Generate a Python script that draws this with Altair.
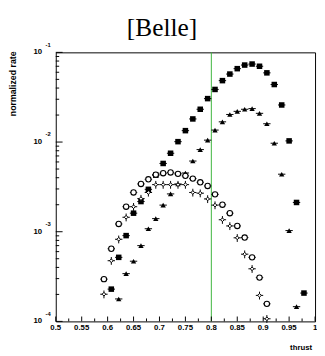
import altair as alt
import pandas as pd

# ---- data ----
thrust = [0.5929, 0.6071, 0.6214, 0.6357, 0.6500, 0.6643, 0.6786, 0.6929,
          0.7071, 0.7214, 0.7357, 0.7500, 0.7643, 0.7786, 0.7929, 0.8071,
          0.8214, 0.8357, 0.8500, 0.8643, 0.8786, 0.8929, 0.9071, 0.9214,
          0.9357, 0.9500, 0.9643, 0.9786]

squares = [None, 2.29e-4, 5.18e-4, 9.05e-4, 1.61e-3, 2.17e-3, 2.97e-3, 4.27e-3,
           5.77e-3, 7.50e-3, 1.01e-2, 1.34e-2, 1.81e-2, 2.32e-2, 3.05e-2, 3.86e-2,
           4.84e-2, 5.73e-2, 6.58e-2, 7.22e-2, 7.41e-2, 7.00e-2, 5.91e-2, 4.38e-2,
           2.59e-2, 1.03e-2, 2.12e-3, 2.07e-4]

triangles = [None, None, 1.78e-4, 3.41e-4, 4.69e-4, 7.00e-4, 1.08e-3, 1.40e-3,
             1.98e-3, 2.64e-3, 3.41e-3, 4.52e-3, 6.14e-3, 8.24e-3, 1.05e-2, 1.36e-2,
             1.68e-2, 2.03e-2, 2.20e-2, 2.32e-2, 2.36e-2, 2.09e-2, 1.60e-2, 9.70e-3,
             4.38e-3, 1.03e-3, 1.46e-4, None]

circles = [2.96e-4, 6.46e-4, 1.22e-3, 1.90e-3, 2.74e-3, 3.41e-3, 3.84e-3, 4.33e-3,
           4.49e-3, 4.58e-3, 4.42e-3, 4.20e-3, 3.91e-3, 3.56e-3, 3.24e-3, 2.61e-3,
           2.00e-3, 1.61e-3, 1.16e-3, 8.61e-4, 5.18e-4, 3.08e-4, 1.57e-4,
           None, None, None, None, None]

diamonds = [2.01e-4, 4.75e-4, 8.24e-4, 1.45e-3, 1.90e-3, 2.34e-3, 2.74e-3, 3.35e-3,
            3.35e-3, 3.35e-3, 3.35e-3, 3.35e-3, 2.74e-3, 2.69e-3, 2.32e-3, 1.98e-3,
            1.36e-3, 1.16e-3, 8.55e-4, 5.62e-4, 3.86e-4, 1.95e-4, 1.07e-4,
            None, None, None, None, None]

x_tick_labels = ["0.5", "0.55", "0.6", "0.65", "0.7", "0.75", "0.8", "0.85",
                 "0.9", "0.95", "1"]
x_major = [0.5, 0.55, 0.6, 0.65, 0.7, 0.75, 0.8, 0.85, 0.9, 0.95, 1.0]
x_minor = [0.525, 0.575, 0.625, 0.675, 0.725, 0.775, 0.825, 0.875, 0.925, 0.975]
y_decades = [1e-1, 1e-2, 1e-3, 1e-4]
y_exponents = ["-1", "-2", "-3", "-4"]
y_minor = [m * 10.0 ** e for e in (-4, -3, -2) for m in range(2, 10)]
cut_value = [0.8]

title_text = "[Belle]"
x_title = "thrust"
y_title = "normalized rate"

# ---- tables ----
rows = []
for name, vals in (("sq", squares), ("tri", triangles), ("circ", circles), ("dia", diamonds)):
    for t, v in zip(thrust, vals):
        if v is not None:
            rows.append({"thrust": t, "rate": v, "series": name})
df = pd.DataFrame(rows)
half_bin = (thrust[1] - thrust[0]) / 2

W, H = 266, 276
X = alt.Scale(domain=[0.5, 1.0], nice=False, zero=False)
Y = alt.Scale(type="log", domain=[1e-4, 1e-1], nice=False)
FONT = "Liberation Sans"

base = alt.Chart(df)
xenc = alt.X("thrust:Q", scale=X, axis=None)
yenc = alt.Y("rate:Q", scale=Y, axis=None)

hbars = base.transform_calculate(
    x1=f"datum.thrust - {half_bin}", x2=f"datum.thrust + {half_bin}"
).mark_rule(color="black", strokeWidth=1).encode(
    x=alt.X("x1:Q", scale=X, axis=None), x2="x2:Q", y=yenc)

vbars = base.transform_filter(alt.datum.series == "dia").transform_calculate(
    lo="datum.rate * 0.9", hi="datum.rate * 1.1"
).mark_rule(color="black", strokeWidth=1).encode(
    x=xenc, y=alt.Y("lo:Q", scale=Y, axis=None), y2="hi:Q")

sq = base.transform_filter(alt.datum.series == "sq").mark_point(
    shape="square", filled=True, color="black", size=32, opacity=1).encode(x=xenc, y=yenc)
tri = base.transform_filter(alt.datum.series == "tri").mark_point(
    shape="triangle-up", filled=True, color="black", size=30, opacity=1).encode(x=xenc, y=yenc)
circ = base.transform_filter(alt.datum.series == "circ").mark_point(
    shape="circle", filled=True, fill="white", stroke="black", size=30, strokeWidth=1.1,
    opacity=1).encode(x=xenc, y=yenc)
dia = base.transform_filter(alt.datum.series == "dia").mark_point(
    shape="diamond", filled=True, fill="white", stroke="black", size=14, strokeWidth=1,
    opacity=1).encode(x=xenc, y=yenc)

cut = alt.Chart(pd.DataFrame({"v": cut_value})).mark_rule(
    color="#3cb43c", strokeWidth=1).encode(x=alt.X("v:Q", scale=X, axis=None))

xmaj = alt.Chart(pd.DataFrame({"v": x_major})).mark_rule(color="black").encode(
    x=alt.X("v:Q", scale=X, axis=None), y=alt.value(H), y2=alt.value(H - 5))
xmin = alt.Chart(pd.DataFrame({"v": x_minor})).mark_rule(color="black").encode(
    x=alt.X("v:Q", scale=X, axis=None), y=alt.value(H), y2=alt.value(H - 3))
ymaj = alt.Chart(pd.DataFrame({"v": y_decades})).mark_rule(color="black").encode(
    y=alt.Y("v:Q", scale=Y, axis=None), x=alt.value(0), x2=alt.value(7))
ymin = alt.Chart(pd.DataFrame({"v": y_minor})).mark_rule(color="black").encode(
    y=alt.Y("v:Q", scale=Y, axis=None), x=alt.value(0), x2=alt.value(3.5))

xlab = alt.Chart(pd.DataFrame({"v": x_major, "t": x_tick_labels})).mark_text(
    font=FONT, fontWeight="bold", fontSize=8, baseline="top", align="center").encode(
    x=alt.X("v:Q", scale=X, axis=None), y=alt.value(H + 3), text="t:N")

ydf = pd.DataFrame({"v": y_decades, "e": y_exponents, "b": ["10"] * 4})
ylab = alt.Chart(ydf).mark_text(
    font=FONT, fontWeight="bold", fontSize=8, baseline="middle", align="right").encode(
    y=alt.Y("v:Q", scale=Y, axis=None), x=alt.value(-14), text="b:N")
yexp = alt.Chart(ydf).mark_text(
    font=FONT, fontWeight="bold", fontSize=6, baseline="middle", align="left", dy=-8).encode(
    y=alt.Y("v:Q", scale=Y, axis=None), x=alt.value(-10.5), text="e:N")

one = pd.DataFrame({"a": [0]})
title = alt.Chart(one).mark_text(
    font="Liberation Serif", fontSize=26, align="center", baseline="alphabetic",
    text=title_text, color="black").encode(x=alt.value(109), y=alt.value(-16.5))
ytit = alt.Chart(one).mark_text(
    font=FONT, fontWeight="bold", fontSize=9, align="right", baseline="middle",
    angle=270, text=y_title).encode(x=alt.value(-43.5), y=alt.value(-1))
xtit = alt.Chart(one).mark_text(
    font=FONT, fontWeight="bold", fontSize=8, align="right", baseline="alphabetic",
    text=x_title).encode(x=alt.value(263), y=alt.value(H + 29))

chart = alt.layer(
    cut, xmaj, xmin, ymaj, ymin, hbars, vbars, sq, tri, circ, dia,
    xlab, ylab, yexp, title, ytit, xtit
).properties(
    width=W, height=H,
    padding={"left": 49, "top": 41, "right": 2, "bottom": 32},
    autosize=alt.AutoSizeParams(type="none"),
).configure_view(stroke="black", strokeWidth=1)

chart.save("out.html", embed_options={"renderer": "svg", "actions": False})
